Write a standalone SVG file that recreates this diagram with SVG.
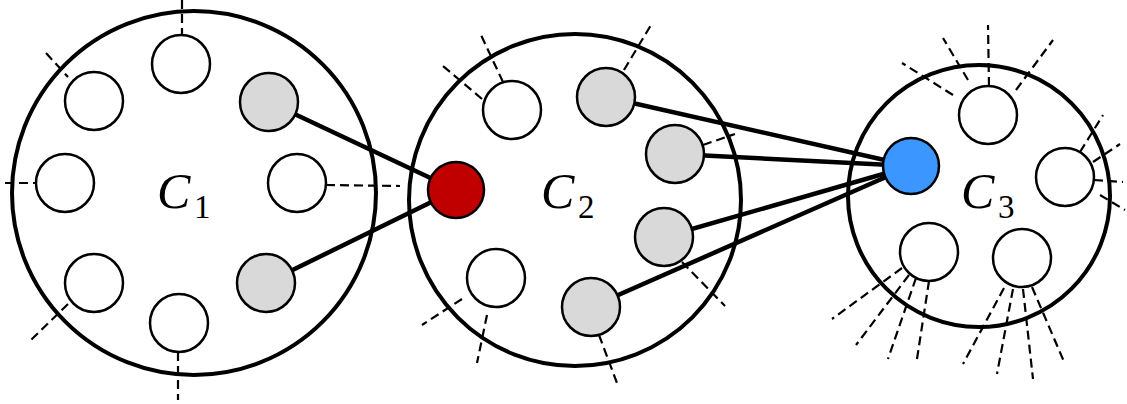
<svg xmlns="http://www.w3.org/2000/svg" width="1127" height="404" viewBox="0 0 1127 404">
<style>
.big{fill:#fff;stroke:#000;stroke-width:4}
.n{fill:#fff;stroke:#000;stroke-width:2.5}
.g{fill:#d9d9d9;stroke:#000;stroke-width:2.5}
.red{fill:#c00000;stroke:#000;stroke-width:2.5}
.blue{fill:#3b96ff;stroke:#000;stroke-width:2.5}
.edge{stroke:#000;stroke-width:4.5;fill:none}
.dash{stroke:#000;stroke-width:2.2;stroke-dasharray:9 5;fill:none}
.lab{font-family:"Liberation Serif","DejaVu Serif",serif;font-style:italic;font-size:50px;fill:#000}
.sub{font-family:"Liberation Serif","DejaVu Serif",serif;font-size:33px;fill:#000}
</style>
<rect width="1127" height="404" fill="#fff"/>
<g id="cluster-C1"><circle class="big" cx="194" cy="193" r="182"/></g>
<g id="cluster-C2"><circle class="big" cx="575" cy="200" r="166"/></g>
<g id="cluster-C3"><circle class="big" cx="979" cy="196" r="131"/></g>
<g id="connectors">
<line class="edge" x1="269" y1="102" x2="456" y2="190"/>
<line class="edge" x1="266" y1="283" x2="456" y2="190"/>
<line class="edge" x1="606" y1="97" x2="911" y2="166"/>
<line class="edge" x1="675" y1="154" x2="911" y2="166"/>
<line class="edge" x1="664" y1="237" x2="911" y2="166"/>
<line class="edge" x1="591" y1="307" x2="911" y2="166"/>
<g id="dangling">
<line class="dash" x1="182" y1="0" x2="182" y2="35"/>
<line class="dash" x1="46" y1="53" x2="68" y2="77"/>
<line class="dash" x1="5" y1="183" x2="36" y2="183"/>
<line class="dash" x1="326" y1="185" x2="400" y2="186"/>
<line class="dash" x1="68" y1="304" x2="31" y2="340"/>
<line class="dash" x1="178" y1="352" x2="178" y2="400"/>
<line class="dash" x1="503" y1="82" x2="481" y2="35"/>
<line class="dash" x1="482" y1="99" x2="443" y2="66"/>
<line class="dash" x1="624" y1="70" x2="651" y2="25"/>
<line class="dash" x1="703" y1="145" x2="735" y2="134"/>
<line class="dash" x1="682" y1="262" x2="725" y2="306"/>
<line class="dash" x1="599" y1="335" x2="617" y2="383"/>
<line class="dash" x1="462" y1="299" x2="422" y2="325"/>
<line class="dash" x1="487" y1="315" x2="477" y2="363"/>
<line class="dash" x1="989" y1="86" x2="988" y2="25"/>
<line class="dash" x1="968" y1="80" x2="943" y2="38"/>
<line class="dash" x1="1016" y1="90" x2="1053" y2="40"/>
<line class="dash" x1="953" y1="95" x2="902" y2="63"/>
<line class="dash" x1="1080" y1="152" x2="1103" y2="115"/>
<line class="dash" x1="1093" y1="162" x2="1120" y2="144"/>
<line class="dash" x1="1094" y1="180" x2="1123" y2="182"/>
<line class="dash" x1="1100" y1="195" x2="1125" y2="210"/>
<line class="dash" x1="902" y1="268" x2="832" y2="319"/>
<line class="dash" x1="909" y1="275" x2="856" y2="345"/>
<line class="dash" x1="916" y1="278" x2="888" y2="359"/>
<line class="dash" x1="929" y1="281" x2="917" y2="359"/>
<line class="dash" x1="1004" y1="288" x2="963" y2="364"/>
<line class="dash" x1="1013" y1="289" x2="997" y2="374"/>
<line class="dash" x1="1023" y1="289" x2="1033" y2="379"/>
<line class="dash" x1="1032" y1="287" x2="1065" y2="364"/>
</g>
</g>
<g id="label-C1"><text class="lab" x="157" y="208">C</text><text class="sub" x="194" y="218">1</text></g>
<g id="label-C2"><text class="lab" x="541" y="208">C</text><text class="sub" x="578" y="218">2</text></g>
<g id="label-C3"><text class="lab" x="961" y="208">C</text><text class="sub" x="998" y="218">3</text></g>
<g id="c1-n1"><circle class="n" cx="181" cy="64" r="29"/></g>
<g id="c1-n2"><circle class="n" cx="94" cy="101" r="29"/></g>
<g id="c1-n3"><circle class="g" cx="269" cy="102" r="29"/></g>
<g id="c1-n4"><circle class="n" cx="65" cy="183" r="29"/></g>
<g id="c1-n5"><circle class="n" cx="297" cy="183" r="29"/></g>
<g id="c1-n6"><circle class="n" cx="94" cy="283" r="29"/></g>
<g id="c1-n7"><circle class="g" cx="266" cy="283" r="29"/></g>
<g id="c1-n8"><circle class="n" cx="179" cy="323" r="29"/></g>
<g id="red"><circle class="red" cx="456" cy="190" r="28"/></g>
<g id="c2-n1"><circle class="n" cx="512" cy="110" r="29"/></g>
<g id="c2-n2"><circle class="g" cx="606" cy="97" r="29"/></g>
<g id="c2-n3"><circle class="g" cx="675" cy="154" r="29"/></g>
<g id="c2-n4"><circle class="g" cx="664" cy="237" r="29"/></g>
<g id="c2-n5"><circle class="n" cx="496" cy="278" r="29"/></g>
<g id="c2-n6"><circle class="g" cx="591" cy="307" r="29"/></g>
<g id="blue"><circle class="blue" cx="911" cy="166" r="28"/></g>
<g id="c3-n1"><circle class="n" cx="988" cy="115" r="29"/></g>
<g id="c3-n2"><circle class="n" cx="1065" cy="177" r="29"/></g>
<g id="c3-n3"><circle class="n" cx="929" cy="252" r="29"/></g>
<g id="c3-n4"><circle class="n" cx="1022" cy="258" r="29"/></g>
</svg>
